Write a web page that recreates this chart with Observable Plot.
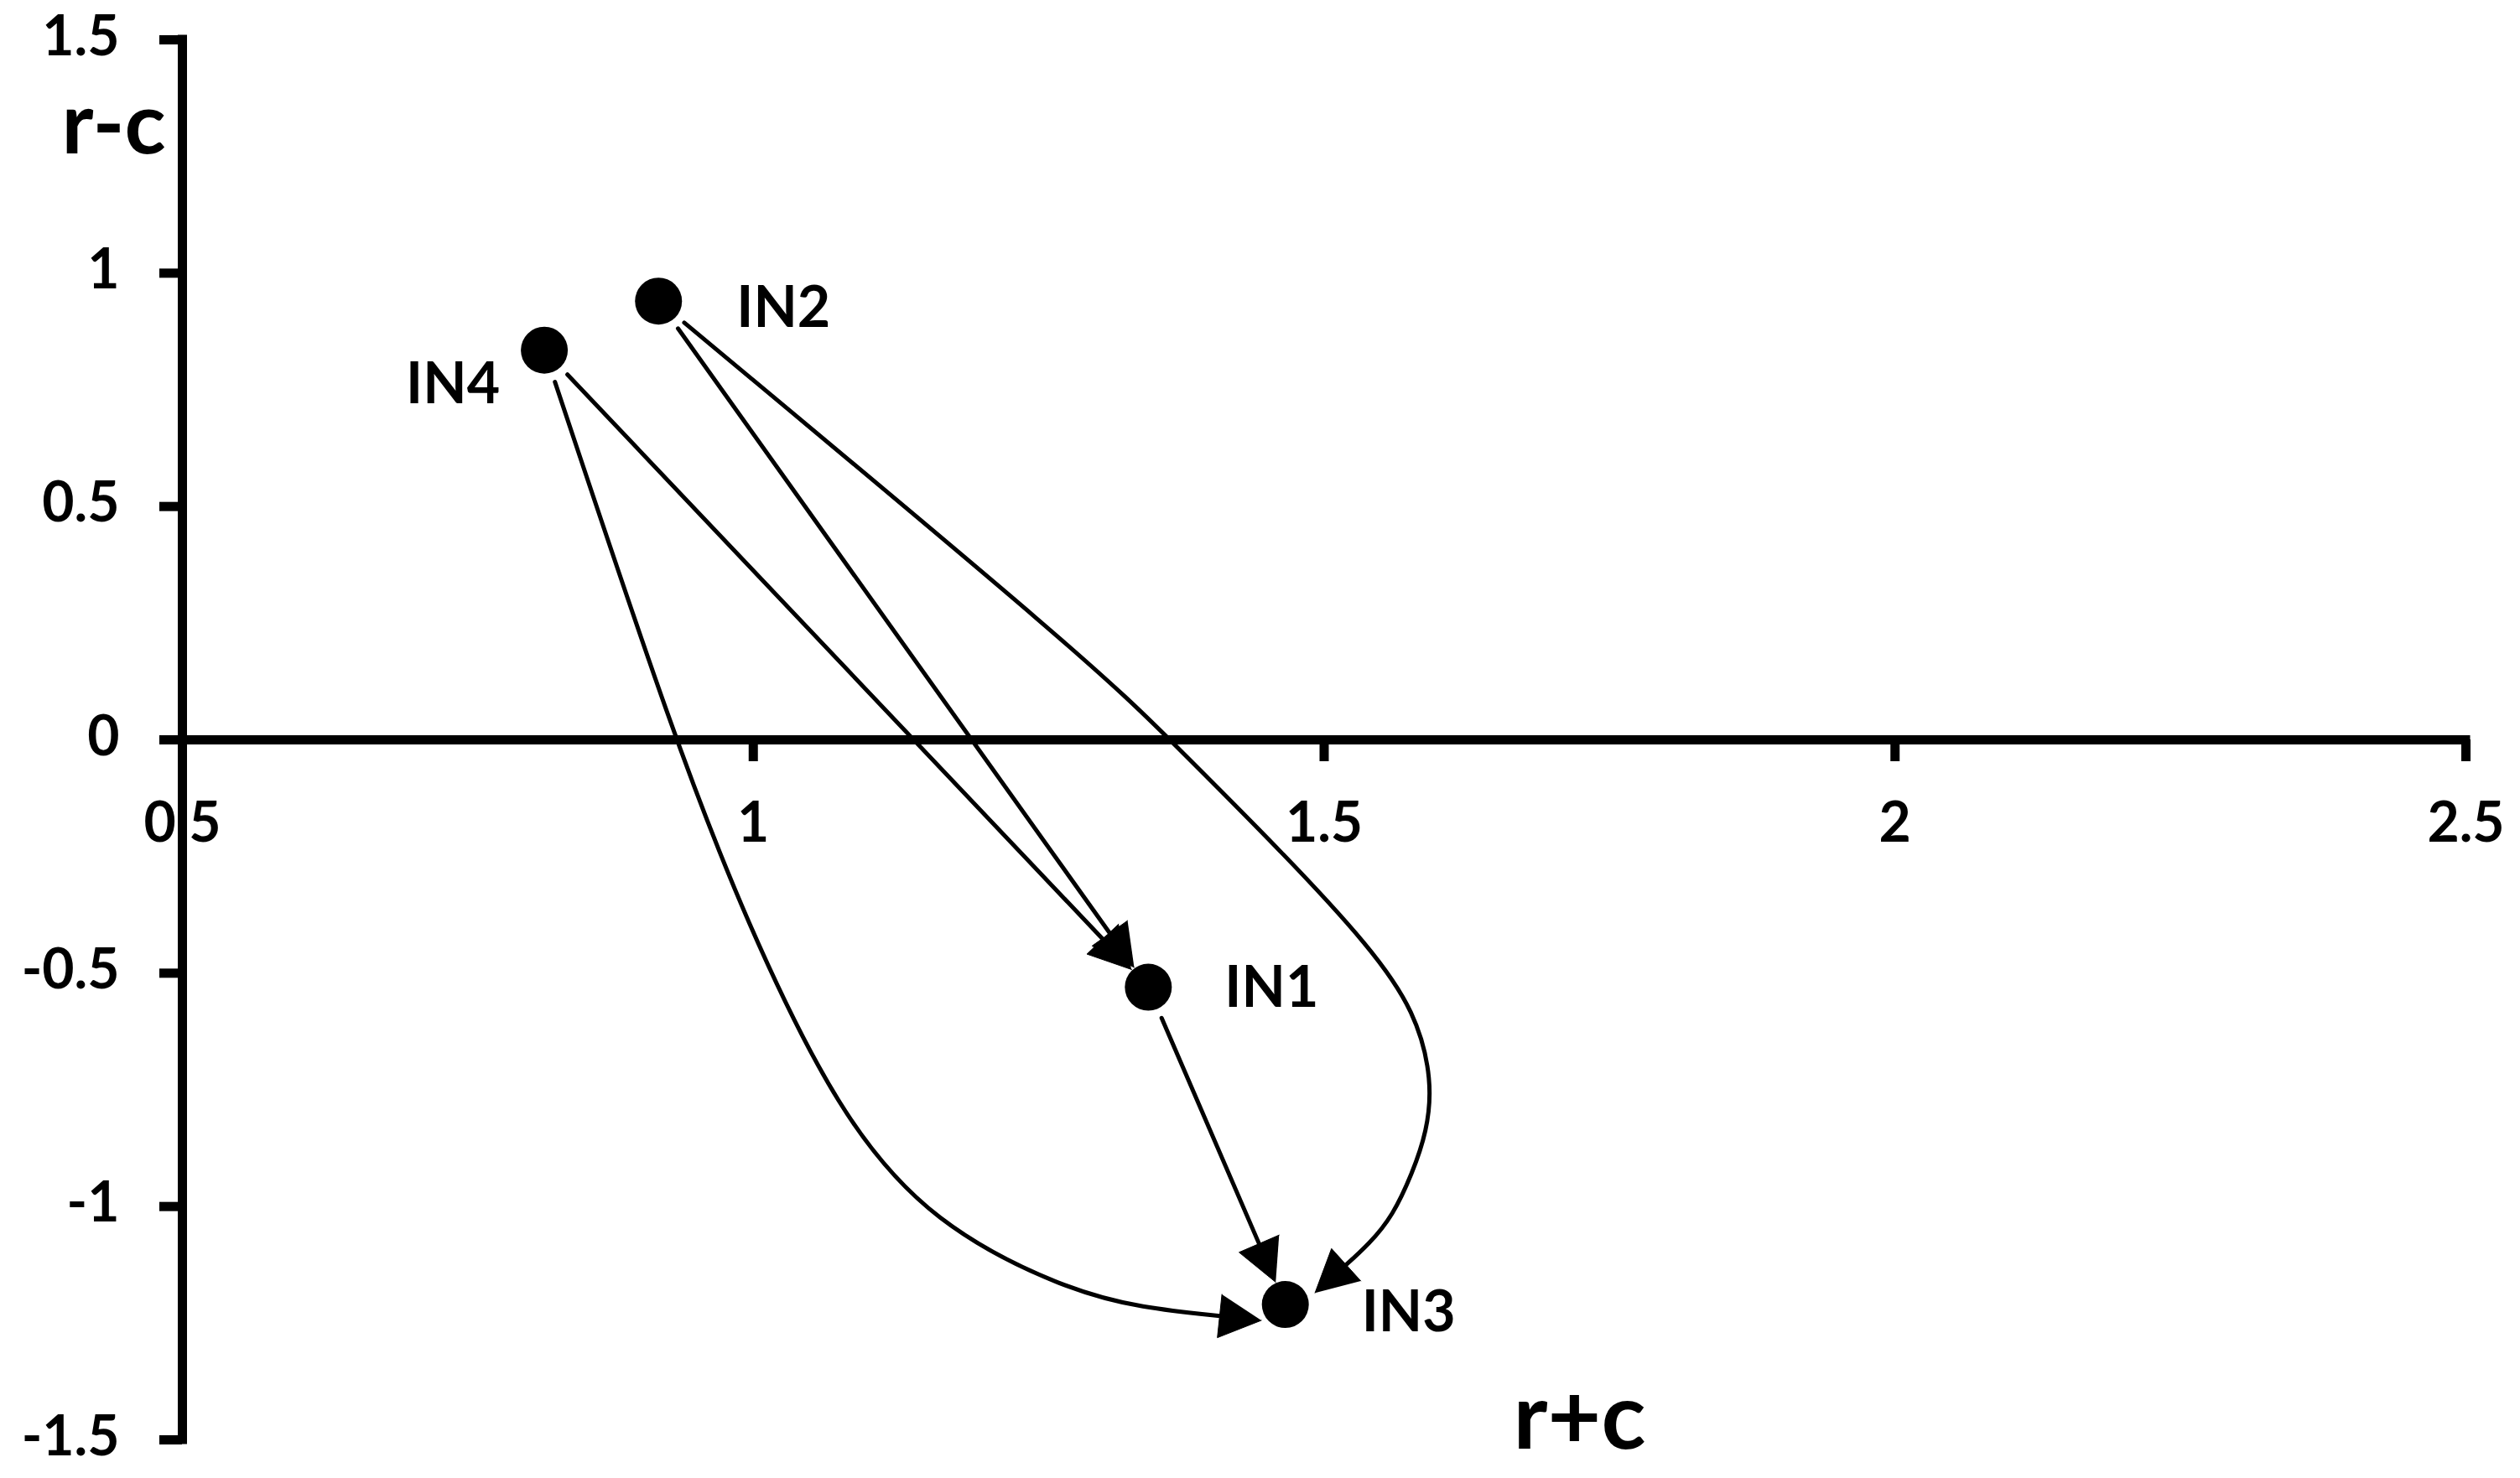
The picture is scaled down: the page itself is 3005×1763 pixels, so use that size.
<!DOCTYPE html>
<html>
<head>
<meta charset="utf-8">
<script src="https://cdn.jsdelivr.net/npm/d3@7"></script>
<script src="https://cdn.jsdelivr.net/npm/@observablehq/plot@0.6"></script>
<style>
  html, body { margin: 0; padding: 0; background: #fff; }
  #chart svg { display: block; }
</style>
</head>
<body>
<div id="chart"></div>
<script>
// ---------- data ----------
const nodeNames = ["IN1", "IN2", "IN3", "IN4"];
const nodeX = [1.346, 0.917, 1.466, 0.817];   // r+c
const nodeY = [-0.530, 0.940, -1.210, 0.835]; // r-c

// straight arrows
const straightFrom = ["IN2", "IN4", "IN1"];
const straightTo   = ["IN1", "IN1", "IN3"];

// curved arrows: waypoints (last one is the arrow tip)
const curveFrom = ["IN2", "IN4"];
const curveTo   = ["IN3", "IN3"];
const curveIN2IN3x = [1.295, 1.365, 1.467, 1.540, 1.580, 1.595, 1.590, 1.577, 1.560, 1.540, 1.492];
const curveIN2IN3y = [0.169, 0.000, -0.250, -0.443, -0.582, -0.731, -0.840, -0.930, -1.020, -1.079, -1.185];
const curveIN4IN3x = [0.931, 0.994, 1.074, 1.158, 1.276, 1.340, 1.445];
const curveIN4IN3y = [0.000, -0.391, -0.801, -1.040, -1.180, -1.217, -1.244];

const xDomain = [0.5, 2.5];
const yDomain = [-1.5, 1.5];
const xTicks = [0.5, 1, 1.5, 2, 2.5];
const xTickLabels = ["0.5", "1", "1.5", "2", "2.5"];
const yTicks = [1.5, 1, 0.5, 0, -0.5, -1, -1.5];
const yTickLabels = ["1.5", "1", "0.5", "0", "-0.5", "-1", "-1.5"];
const xTitle = "r+c";
const yTitle = "r-c";

// ---------- layout ----------
const W = 3005, H = 1763;
const mL = 217, mR = 65, mT = 47, mB = 46;
const kx = (W - mL - mR) / (xDomain[1] - xDomain[0]);
const ky = (H - mT - mB) / (yDomain[1] - yDomain[0]);
const font = "Lato, 'Open Sans', sans-serif";
const weight = "bold";
const axisW = 11, tickLen = 27;
const dotR = 28, insetStart = 40, insetEnd = 29, headLen = 50, headW = 52, lineW = 5;

const nodes = nodeNames.map((n, i) => ({name: n, x: nodeX[i], y: nodeY[i]}));
const nodeBy = Object.fromEntries(nodes.map(d => [d.name, d]));

// pixel <-> data helpers (linear scales)
const toPx = ([x, y]) => [(x - xDomain[0]) * kx, (yDomain[1] - y) * ky];
const toData = ([u, v]) => [u / kx + xDomain[0], yDomain[1] - v / ky];
const unit = (a, b) => { const dx = b[0] - a[0], dy = b[1] - a[1], l = Math.hypot(dx, dy); return [dx / l, dy / l]; };

const lineRows = [], headRows = [];
function addArrow(id, fromName, toName, wx, wy) {
  const A = toPx([nodeBy[fromName].x, nodeBy[fromName].y]);
  const B = toPx([nodeBy[toName].x, nodeBy[toName].y]);
  let wp = (wx || []).map((x, i) => toPx([x, wy[i]]));
  let tip, prev;
  if (wp.length) {
    tip = wp[wp.length - 1];
    wp = wp.slice(0, -1);
    prev = wp.length ? wp[wp.length - 1] : A;
  } else {
    const u = unit(A, B);
    tip = [B[0] - u[0] * insetEnd, B[1] - u[1] * insetEnd];
    prev = A;
  }
  const first = wp.length ? wp[0] : tip;
  const u0 = unit(A, first);
  const start = [A[0] + u0[0] * insetStart, A[1] + u0[1] * insetStart];
  const d = unit(prev, tip);
  const base = [tip[0] - d[0] * headLen * 0.9, tip[1] - d[1] * headLen * 0.9];
  const hb = [tip[0] - d[0] * headLen, tip[1] - d[1] * headLen];
  const n = [-d[1], d[0]];
  [start, ...wp, base].map(toData).forEach(p => lineRows.push({id, x: p[0], y: p[1]}));
  [tip,
   [hb[0] + n[0] * headW / 2, hb[1] + n[1] * headW / 2],
   [hb[0] - n[0] * headW / 2, hb[1] - n[1] * headW / 2]]
    .map(toData).forEach(p => headRows.push({id, x: p[0], y: p[1]}));
}
straightFrom.forEach((f, i) => addArrow("s" + i, f, straightTo[i]));
addArrow("c0", curveFrom[0], curveTo[0], curveIN2IN3x, curveIN2IN3y);
addArrow("c1", curveFrom[1], curveTo[1], curveIN4IN3x, curveIN4IN3y);

const labelPlace = {
  IN1: {dx: 91, dy: 2, anchor: "start"},
  IN2: {dx: 93, dy: 9, anchor: "start"},
  IN3: {dx: 91, dy: 10, anchor: "start"},
  IN4: {dx: -53, dy: 42, anchor: "end"}
};

const chart = Plot.plot({
  width: W, height: H,
  marginLeft: mL, marginRight: mR, marginTop: mT, marginBottom: mB,
  x: {domain: xDomain, axis: null},
  y: {domain: yDomain, axis: null},
  style: {background: "white", color: "black", fontFamily: font},
  marks: [
    // tick labels
    Plot.text(xTicks, {x: d => d, y: 0, text: (d, i) => xTickLabels[i], dy: 100,
      fontSize: 66, fontWeight: weight, fill: "black"}),
    Plot.text(yTicks, {x: xDomain[0], y: d => d, text: (d, i) => yTickLabels[i],
      textAnchor: "end", dx: -75, dy: -3, fontSize: 66, fontWeight: weight, fill: "black"}),
    // axis titles
    Plot.text([yTitle], {frameAnchor: "top-left", dx: -82, dy: 103, text: d => d,
      textAnchor: "middle", lineAnchor: "middle",
      fontSize: 102, fontWeight: weight, fill: "black"}),
    Plot.text([xTitle], {frameAnchor: "bottom-left", dx: 1666, dy: -25, text: d => d,
      textAnchor: "middle", lineAnchor: "middle",
      fontSize: 110, fontWeight: weight, fill: "black"}),
    // axes
    Plot.ruleY(yTicks, {y: d => d, x1: xDomain[0] - tickLen / kx, x2: xDomain[0],
      stroke: "black", strokeWidth: axisW}),
    Plot.ruleX(xTicks, {x: d => d, y1: 0, y2: -(tickLen - 1) / ky,
      stroke: "black", strokeWidth: axisW}),
    Plot.ruleX([xDomain[0]], {y1: yDomain[0], y2: yDomain[1], stroke: "black",
      strokeWidth: axisW, strokeLinecap: "square"}),
    Plot.ruleY([0], {x1: xDomain[0], x2: xDomain[1], stroke: "black",
      strokeWidth: axisW, strokeLinecap: "square"}),
    // arrows
    Plot.line(lineRows, {x: "x", y: "y", z: "id", curve: "basis",
      stroke: "black", strokeWidth: lineW}),
    Plot.line(headRows, {x: "x", y: "y", z: "id", fill: "black", stroke: "black",
      strokeWidth: 1}),
    // nodes
    Plot.dot(nodes, {x: "x", y: "y", r: dotR, fill: "black", stroke: "none"}),
    ...nodeNames.map(n => Plot.text(nodes.filter(d => d.name === n), {
      x: "x", y: "y", text: "name",
      dx: labelPlace[n].dx, dy: labelPlace[n].dy, textAnchor: labelPlace[n].anchor,
      fontSize: 68, fontWeight: weight, fill: "black"}))
  ]
});
document.getElementById("chart").appendChild(chart);
</script>
</body>
</html>
